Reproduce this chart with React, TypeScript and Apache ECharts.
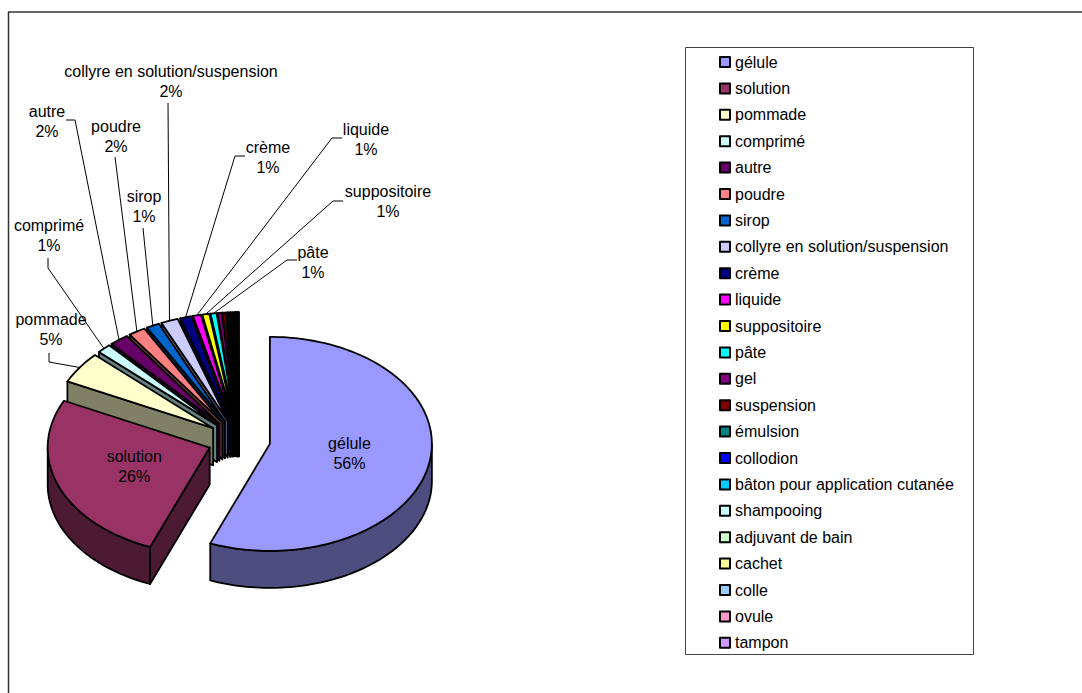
import React, { useEffect, useRef } from "react";
import * as echarts from "echarts";

// Dosage forms and their share of the total (percent)
const CATEGORIES = [
  "gélule",
  "solution",
  "pommade",
  "comprimé",
  "autre",
  "poudre",
  "sirop",
  "collyre en solution/suspension",
  "crème",
  "liquide",
  "suppositoire",
  "pâte",
  "gel",
  "suspension",
  "émulsion",
  "collodion",
  "bâton pour application cutanée",
  "shampooing",
  "adjuvant de bain",
  "cachet",
  "colle",
  "ovule",
  "tampon",
];

const SHARES = [
  56.0, 26.2, 4.8, 1.4, 1.9, 1.7, 1.3, 1.7, 1.1, 0.8, 0.7, 0.6, 0.4, 0.3, 0.2,
  0.2, 0.15, 0.15, 0.1, 0.1, 0.1, 0.05, 0.05,
];

const PALETTE = [
  "#9999FF", "#993366", "#FFFFCC", "#CCFFFF", "#660066", "#FF8080", "#0066CC",
  "#CCCCFF", "#000080", "#FF00FF", "#FFFF00", "#00FFFF", "#800080", "#800000",
  "#008080", "#0000FF", "#00CCFF", "#CCFFFF", "#CCFFCC", "#FFFF99", "#99CCFF",
  "#FF99CC", "#CC99FF",
];

// Slices whose label sits inside the top face
const INSIDE_LABELS = ["gélule", "solution"];

// Placement of the outside labels and the bend points of their leader lines
const OUTSIDE_LABELS: Record<string, { x: number; y: number; leader: number[][] }> = {
  pommade: { x: 51, y: 329, leader: [[49, 353], [49, 362]] },
  "comprimé": { x: 49, y: 235, leader: [[48, 258], [48, 268]] },
  autre: { x: 47, y: 121, leader: [[66, 120], [75, 120]] },
  poudre: { x: 116, y: 136, leader: [[115, 157]] },
  sirop: { x: 144, y: 206, leader: [[143, 228]] },
  "collyre en solution/suspension": { x: 171, y: 81, leader: [[168, 103]] },
  "crème": { x: 268, y: 157, leader: [[245, 156], [235, 156]] },
  liquide: { x: 366, y: 139, leader: [[342, 138], [332, 138]] },
  suppositoire: { x: 388, y: 201, leader: [[343, 201], [333, 201]] },
  "pâte": { x: 313, y: 262, leader: [[297, 260], [287, 260]] },
};

// Pie geometry (tilted disc seen from above)
const CX = 239;
const CY = 440;
const RX = 162;
const RY = 107;
const DEPTH = 37;
const EXPLODE = 0.194;
const FONT = "Liberation Sans";

function shade(hex: string, k: number): string {
  const n = parseInt(hex.slice(1), 16);
  const r = Math.round(((n >> 16) & 255) * k);
  const g = Math.round(((n >> 8) & 255) * k);
  const b = Math.round((n & 255) * k);
  return `rgb(${r},${g},${b})`;
}

const TOTAL = SHARES.reduce((s, v) => s + v, 0);
const STARTS: number[] = [];
SHARES.reduce((acc, v, i) => {
  STARTS[i] = acc;
  return acc + v;
}, 0);

function buildOption(): echarts.EChartsCoreOption {
  const renderItem = (params: any) => {
    const i = params.dataIndex;
    const name = CATEGORIES[i];
    const value = SHARES[i];
    const color = PALETTE[i];
    const side = shade(color, 0.5);
    const a0 = (STARTS[i] / TOTAL) * Math.PI * 2;
    const a1 = ((STARTS[i] + value) / TOTAL) * Math.PI * 2;
    const mid = (a0 + a1) / 2;
    const ox = CX + EXPLODE * RX * Math.sin(mid);
    const oy = CY - EXPLODE * RY * Math.cos(mid);
    const P = (t: number, r = 1, dz = 0) => [
      ox + r * RX * Math.sin(t),
      oy - r * RY * Math.cos(t) + dz,
    ];
    const arc = (t0: number, t1: number, dz: number) => {
      const n = Math.max(2, Math.ceil(Math.abs(t1 - t0) / (Math.PI / 120)));
      const pts: number[][] = [];
      for (let k = 0; k <= n; k++) pts.push(P(t0 + ((t1 - t0) * k) / n, 1, dz));
      return pts;
    };
    const avgY = (pts: number[][]) => pts.reduce((s, p) => s + p[1], 0) / pts.length;
    const edge = { stroke: "#000", lineWidth: 1.8, lineJoin: "round" };
    const children: any[] = [];

    // curved outer wall, only on the half facing the viewer
    const s = Math.max(a0, Math.PI / 2);
    const e = Math.min(a1, (Math.PI * 3) / 2);
    if (e > s) {
      const pts = arc(s, e, 0).concat(arc(e, s, DEPTH));
      children.push({
        type: "polygon",
        shape: { points: pts },
        style: { fill: side, ...edge },
        z2: 100 + avgY(pts),
      });
    }
    // radial walls facing the viewer
    const radial = (t: number) => {
      const p = P(t);
      const pts = [[ox, oy], p, [p[0], p[1] + DEPTH], [ox, oy + DEPTH]];
      children.push({
        type: "polygon",
        shape: { points: pts },
        style: { fill: side, ...edge },
        z2: 100 + avgY(pts),
      });
    };
    if (Math.sin(a0) < -1e-6) radial(a0);
    if (Math.sin(a1) > 1e-6) radial(a1);

    // top face
    children.push({
      type: "polygon",
      shape: { points: [[ox, oy]].concat(arc(a0, a1, 0)) },
      style: { fill: color, ...edge },
      z2: 1000,
    });

    const pct = Math.round((value / TOTAL) * 100);
    const text = `${name}\n${pct}%`;
    const textStyle = {
      text,
      fill: "#000",
      fontSize: 16,
      fontFamily: FONT,
      lineHeight: 20,
      align: "center",
      textAlign: "center",
      verticalAlign: "middle",
      textVerticalAlign: "middle",
    };
    if (INSIDE_LABELS.includes(name)) {
      const c = P(mid, 0.5);
      children.push({ type: "text", style: { ...textStyle, x: c[0], y: c[1] }, z2: 2000 });
    } else if (OUTSIDE_LABELS[name] && pct >= 1) {
      const lay = OUTSIDE_LABELS[name];
      const anchor = P(mid, 1);
      children.push({
        type: "polyline",
        shape: { points: lay.leader.concat([anchor]) },
        style: { stroke: "#000", lineWidth: 1, fill: "none" },
        z2: 1500,
      });
      children.push({ type: "text", style: { ...textStyle, x: lay.x, y: lay.y }, z2: 2000 });
    }
    return { type: "group", children };
  };

  return {
    animation: false,
    backgroundColor: "#fff",
    legend: {
      orient: "vertical",
      left: 719,
      top: 53,
      padding: 0,
      itemWidth: 10,
      itemHeight: 10,
      itemGap: 8.4,
      icon: "rect",
      selectedMode: false,
      itemStyle: { borderColor: "#000", borderWidth: 2 },
      textStyle: { fontFamily: FONT, fontSize: 16, color: "#000", lineHeight: 18 },
      data: CATEGORIES,
    },
    graphic: [
      { type: "line", shape: { x1: 8, y1: 12, x2: 1082, y2: 12 }, style: { stroke: "#333", lineWidth: 1.5 } },
      { type: "line", shape: { x1: 8.5, y1: 12, x2: 8.5, y2: 693 }, style: { stroke: "#333", lineWidth: 1.5 } },
      {
        type: "rect",
        shape: { x: 685.5, y: 47.5, width: 288, height: 607 },
        style: { fill: "none", stroke: "#444", lineWidth: 1 },
      },
    ],
    series: [
      {
        // legend entries
        type: "pie",
        radius: [0, 0],
        center: [-50, -50],
        silent: true,
        label: { show: false },
        labelLine: { show: false },
        data: CATEGORIES.map((n, i) => ({ name: n, value: SHARES[i], itemStyle: { color: PALETTE[i] } })),
      },
      {
        type: "custom",
        coordinateSystem: "none",
        silent: true,
        renderItem,
        data: CATEGORIES.map((n, i) => ({ name: n, value: SHARES[i] })),
      },
    ],
  };
}

export default function App() {
  const ref = useRef<HTMLDivElement>(null);
  useEffect(() => {
    if (!ref.current) return;
    const chart = echarts.init(ref.current, undefined, { renderer: "svg" });
    chart.setOption(buildOption());
    return () => chart.dispose();
  }, []);
  return (
    <div
      ref={ref}
      style={{ position: "fixed", left: 0, top: 0, width: "1082px", height: "693px", background: "#fff" }}
    />
  );
}
